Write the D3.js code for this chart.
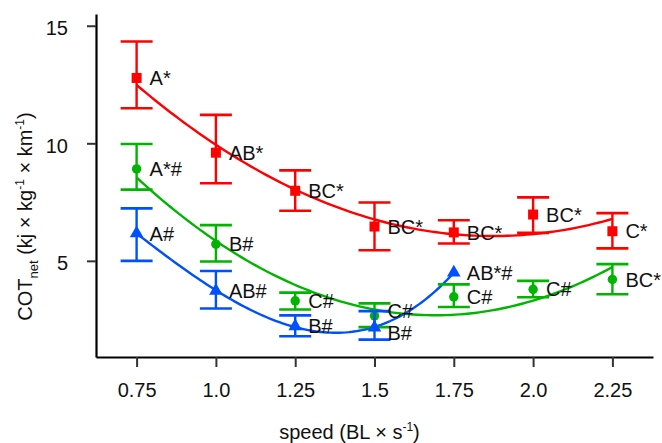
<!DOCTYPE html>
<html><head><meta charset="utf-8">
<script src="https://cdn.jsdelivr.net/npm/d3@7"></script>
<style>body{margin:0;background:#fff}svg{display:block}text{font-family:"Liberation Sans",Arial,sans-serif}</style>
</head><body><svg id="c" width="662" height="443"></svg>
<script>
const speeds = [0.75, 1.0, 1.25, 1.5, 1.75, 2.0, 2.25];
const speedTickLabels = ["0.75", "1.0", "1.25", "1.5", "1.75", "2.0", "2.25"];
const cotTicks = [5, 10, 15];

const redMean = [12.78, 9.60, 7.98, 6.46, 6.21, 6.97, 6.26];
const redLow = [11.49, 8.30, 7.13, 5.45, 5.74, 6.19, 5.53];
const redHigh = [14.33, 11.21, 8.85, 7.48, 6.73, 7.70, 7.03];
const redLabels = ["A*", "AB*", "BC*", "BC*", "BC*", "BC*", "C*"];

const greenMean = [8.91, 5.71, 3.30, 2.66, 3.47, 3.79, 4.21];
const greenLow = [8.03, 4.97, 2.93, 2.18, 3.04, 3.45, 3.58];
const greenHigh = [9.97, 6.52, 3.65, 3.19, 4.00, 4.15, 4.86];
const greenLabels = ["A*#", "B#", "C#", "C#", "C#", "C#", "BC*"];

const blueSpeeds = [0.75, 1.0, 1.25, 1.5, 1.75];
const blueMean = [6.17, 3.72, 2.22, 2.16, 4.50];
const blueLow = [5.00, 2.97, 1.79, 1.65, null];
const blueHigh = [7.23, 4.57, 2.68, 2.86, null];
const blueLabels = ["A#", "AB#", "B#", "B#", "AB*#"];

const series = [
  {xs: speeds, mean: redMean, low: redLow, high: redHigh, labels: redLabels, color: "#ff0000", shape: d3.symbolSquare, size: 100, degree: 2},
  {xs: speeds, mean: greenMean, low: greenLow, high: greenHigh, labels: greenLabels, color: "#00b400", shape: d3.symbolCircle, size: 70, degree: 2},
  {xs: blueSpeeds, mean: blueMean, low: blueLow, high: blueHigh, labels: blueLabels, color: "#0050ff", shape: d3.symbolTriangle, size: 80, degree: 3}
];

const svg = d3.select("#c");
const x = d3.scaleLinear().domain([0.622, 2.378]).range([96, 653]);
const y = d3.scaleLinear().domain([0.91, 15.5]).range([357, 14]);

// least squares polynomial fit
function polyfit(xs, ys, deg) {
  const n = deg + 1;
  const A = Array.from({length: n}, () => new Array(n + 1).fill(0));
  for (let k = 0; k < xs.length; k++) {
    for (let i = 0; i < n; i++) {
      for (let j = 0; j < n; j++) A[i][j] += Math.pow(xs[k], i + j);
      A[i][n] += ys[k] * Math.pow(xs[k], i);
    }
  }
  for (let i = 0; i < n; i++) {
    let p = i;
    for (let r = i + 1; r < n; r++) if (Math.abs(A[r][i]) > Math.abs(A[p][i])) p = r;
    [A[i], A[p]] = [A[p], A[i]];
    for (let r = 0; r < n; r++) {
      if (r === i) continue;
      const f = A[r][i] / A[i][i];
      for (let c = i; c <= n; c++) A[r][c] -= f * A[i][c];
    }
  }
  const coef = A.map((row, i) => row[n] / row[i]);
  return v => coef.reduce((s, c, i) => s + c * Math.pow(v, i), 0);
}

// axes
const yAxis = d3.axisLeft(y).tickValues(cotTicks).tickSize(9).tickSizeOuter(0).tickPadding(19);
const gy = svg.append("g").attr("transform", "translate(96,0)").call(yAxis);
const xAxis = d3.axisBottom(x).tickValues(speeds).tickFormat((d, i) => speedTickLabels[i]).tickSize(10).tickSizeOuter(0).tickPadding(15.5);
const gx = svg.append("g").attr("transform", "translate(0,357)").call(xAxis);
[gx, gy].forEach(g => {
  g.select(".domain").attr("stroke", "#000").attr("stroke-width", 2.2);
  g.selectAll(".tick line").attr("stroke", "#333").attr("stroke-width", 2);
  g.selectAll(".tick text").attr("fill", "#111").style("font-size", "20px");
});
gy.selectAll(".tick text").attr("dy", "0.45em");

// curves
const line = d3.line().x(d => x(d[0])).y(d => y(d[1]));
series.forEach(s => {
  const f = polyfit(s.xs, s.mean, s.degree);
  const x0 = s.xs[0], x1 = s.xs[s.xs.length - 1];
  const pts = d3.range(0, 101).map(i => { const v = x0 + (x1 - x0) * i / 100; return [v, f(v)]; });
  svg.append("path").attr("d", line(pts)).attr("fill", "none").attr("stroke", s.color).attr("stroke-width", 2.4);
});

// label layout: start at the point's height, push apart labels sharing a speed
const minGap = 22;
const labelItems = [];
series.forEach(s => s.xs.forEach((v, i) => labelItems.push({v, ly: y(s.mean[i]), text: s.labels[i]})));
d3.groups(labelItems, d => d.v).forEach(([, items]) => {
  items.sort((a, b) => a.ly - b.ly);
  for (let k = 1; k < items.length; k++) {
    const gap = items[k].ly - items[k - 1].ly;
    if (gap < minGap) {
      const push = (minGap - gap) / 2;
      items[k - 1].ly -= push;
      items[k].ly += push;
    }
  }
});

// error bars, markers
series.forEach(s => {
  const g = svg.append("g");
  s.xs.forEach((v, i) => {
    const cx = x(v);
    if (s.low[i] != null) {
      g.append("line").attr("x1", cx).attr("x2", cx).attr("y1", y(s.low[i])).attr("y2", y(s.high[i])).attr("stroke", s.color).attr("stroke-width", 2.4);
      [s.low[i], s.high[i]].forEach(e => {
        g.append("line").attr("x1", cx - 16).attr("x2", cx + 16).attr("y1", y(e)).attr("y2", y(e)).attr("stroke", s.color).attr("stroke-width", 2.6);
      });
    }
    g.append("path").attr("d", d3.symbol().type(s.shape).size(s.size)())
      .attr("transform", `translate(${cx},${y(s.mean[i])})`).attr("fill", s.color);
  });
});

// point labels
svg.append("g").selectAll("text").data(labelItems).join("text")
  .attr("x", d => x(d.v) + 13).attr("y", d => d.ly).attr("dy", "0.36em")
  .style("font-size", "20px").attr("fill", "#111").text(d => d.text);

// axis titles
const xt = svg.append("text").attr("x", 349.5).attr("y", 439).attr("text-anchor", "middle").style("font-size", "20px").attr("fill", "#111");
xt.append("tspan").text("speed (BL × s");
xt.append("tspan").attr("dy", -8).style("font-size", "12px").text("-1");
xt.append("tspan").attr("dy", 8).text(")");

const yt = svg.append("text").attr("transform", "translate(32,216.5) rotate(-90)").attr("text-anchor", "middle").style("font-size", "20px").attr("fill", "#111");
yt.append("tspan").text("COT");
yt.append("tspan").attr("dy", 6).style("font-size", "13px").text("net");
yt.append("tspan").attr("dy", -6).text(" (kj × kg");
yt.append("tspan").attr("dy", -8).style("font-size", "12px").text("-1");
yt.append("tspan").attr("dy", 8).text(" × km");
yt.append("tspan").attr("dy", -8).style("font-size", "12px").text("-1");
yt.append("tspan").attr("dy", 8).text(")");
</script></body></html>
